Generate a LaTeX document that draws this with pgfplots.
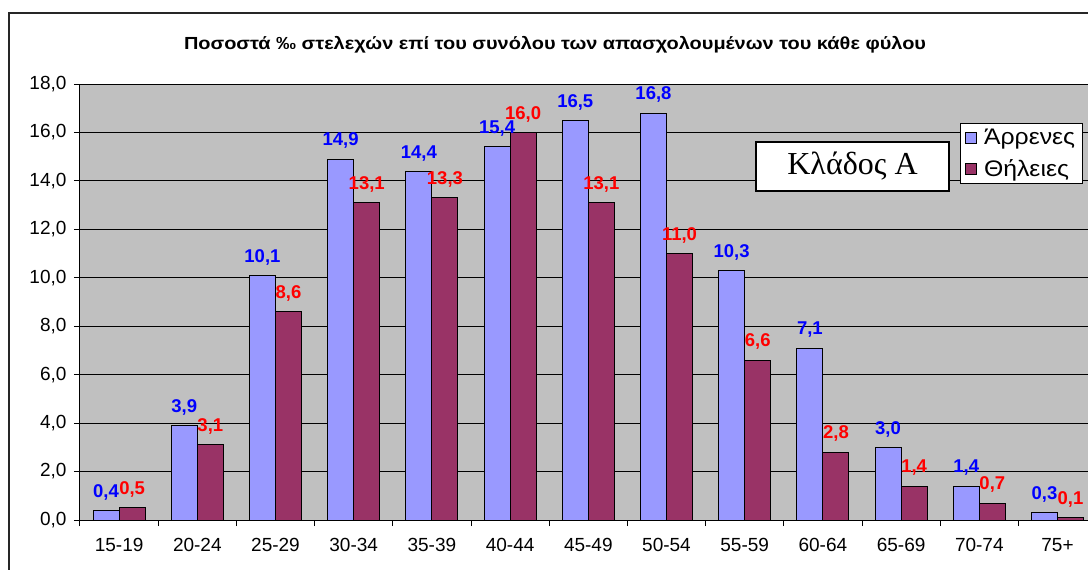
\documentclass[border=0pt]{standalone}
\usepackage{fontspec}
\setmainfont{Liberation Sans}
\newfontfamily\serifgr{Liberation Serif}
\newfontfamily\titlefont{Liberation Sans}[FakeStretch=1.14]
\newfontfamily\legfont{Liberation Sans}[FakeStretch=1.1]
\usepackage{pgfplots}
\usepackage{pgfplotstable}
\pgfplotsset{compat=1.18}
\definecolor{male}{HTML}{9999FF}
\definecolor{female}{HTML}{993366}
\definecolor{plotbg}{HTML}{C0C0C0}

\pgfplotstableread{
idx m f
0 0.4 0.5
1 3.9 3.1
2 10.1 8.6
3 14.9 13.1
4 14.4 13.3
5 15.4 16.0
6 16.5 13.1
7 16.8 11.0
8 10.3 6.6
9 7.1 2.8
10 3.0 1.4
11 1.4 0.7
12 0.3 0.1
}\data

\begin{document}
\begin{tikzpicture}
\useasboundingbox (0,0) rectangle (1088pt,-570pt);
\clip (0,0) rectangle (1088pt,-570pt);
\fill[white] (0,0) rectangle (1088pt,-570pt);
\draw[line width=2pt, black!85] (9pt,-13pt) rectangle (1100pt,-600pt);
\node[font=\titlefont\bfseries\fontsize{17.5}{20}\selectfont] at (555pt,-45pt) {Ποσοστά ‰ στελεχών επί του συνόλου των απασχολουμένων του κάθε φύλου};
\begin{axis}[
  at={(80pt,-520pt)}, anchor=south west,
  scale only axis, width=1016.6pt, height=436pt,
  xmin=-0.5, xmax=12.5, ymin=0, ymax=18,
  axis background/.style={fill=plotbg},
  axis x line*=bottom, axis y line*=left,
  axis line style={black, line width=1pt, -},
  ybar, bar width=0.33333,
  ytick={0,2,...,18},
  ymajorgrids, major grid style={black, line width=0.9pt},
  xtick={0,...,12},
  xticklabels={15-19,20-24,25-29,30-34,35-39,40-44,45-49,50-54,55-59,60-64,65-69,70-74,75+},
  minor xtick={-0.5,0.5,...,12.5},
  major x tick style={draw=none},
  minor x tick style={black, line width=1pt},
  y tick style={black, line width=1pt},
  tick align=outside,
  major tick length=6pt, minor tick length=6pt,
  /pgf/number format/assume math mode=true,
  tick label style={font=\fontsize{19}{22}\selectfont},
  y tick label style={xshift=-4pt, /pgf/number format/.cd, fixed, fixed zerofill, precision=1, use comma},
  x tick label style={yshift=-9pt},
  legend style={at={(0.8657,0.9106)}, anchor=north west, draw=black, fill=white,
    font=\legfont\fontsize{22.5}{24}\selectfont, row sep=9pt, inner xsep=5pt, inner ysep=4pt,
    nodes={inner sep=2pt},
    /tikz/every odd column/.style={column sep=5pt}},
  legend cell align=left,
]
\addplot[fill=male, draw=black, line width=1pt, bar shift=-0.166667,
  legend image code/.code={\draw[fill=male,draw=black,line width=0.8pt] (0pt,-5.5pt) rectangle (11pt,5.5pt);}]
  table[x=idx,y=m]{\data};
\addlegendentry{Άρρενες}
\addplot[fill=female, draw=black, line width=1pt, bar shift=0.166667,
  legend image code/.code={\draw[fill=female,draw=black,line width=0.8pt] (0pt,-5.5pt) rectangle (11pt,5.5pt);}]
  table[x=idx,y=f]{\data};
\addlegendentry{Θήλειες}
\addplot[forget plot, draw=none, fill=none, bar shift=-0.166667,
  nodes near coords={\pgfmathprintnumber[fixed,fixed zerofill,precision=1,use comma,assume math mode=true]{\pgfplotspointmeta}},
  every node near coord/.append style={text=blue, font=\bfseries\fontsize{18.5}{20}\selectfont, anchor=south, inner sep=0pt, text depth=0pt, yshift=13pt}]
  table[x=idx,y=m]{\data};
\addplot[forget plot, draw=none, fill=none, bar shift=0.166667,
  nodes near coords={\pgfmathprintnumber[fixed,fixed zerofill,precision=1,use comma,assume math mode=true]{\pgfplotspointmeta}},
  every node near coord/.append style={text=red, font=\bfseries\fontsize{18.5}{20}\selectfont, anchor=south, inner sep=0pt, text depth=0pt, yshift=13pt}]
  table[x=idx,y=f]{\data};
\end{axis}
\node[draw=black, line width=2pt, fill=white, minimum width=193pt, minimum height=49pt, inner sep=0pt,
  font=\serifgr\fontsize{32}{36}\selectfont] at (852.5pt,-166.5pt) {Κλάδος Α};
\end{tikzpicture}
\end{document}
